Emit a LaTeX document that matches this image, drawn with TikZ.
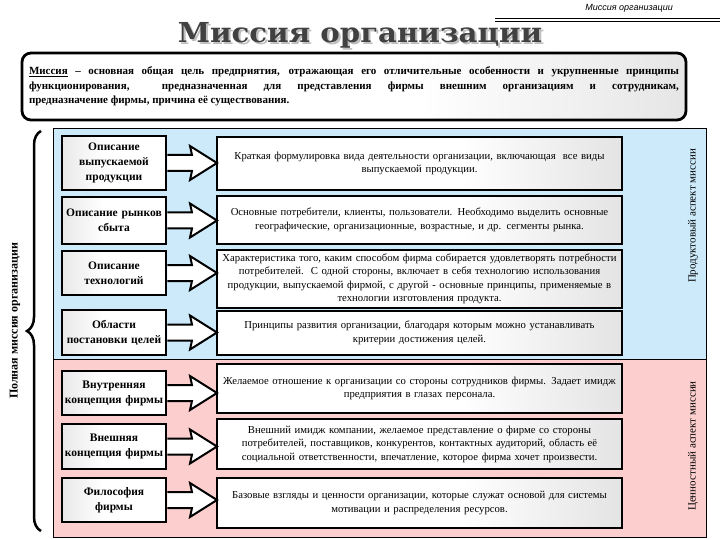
\documentclass[tikz,border=0pt]{standalone}
\usepackage{fontspec}
\setmainfont{Liberation Serif}
\setsansfont{Liberation Sans}
\newfontfamily\titlefont{DejaVu Serif}
\usetikzlibrary{calc,decorations.pathreplacing}
\definecolor{bluepanel}{RGB}{204,234,250}
\definecolor{pinkpanel}{RGB}{252,206,206}
\definecolor{titlegray}{RGB}{65,65,65}
\pgfdeclarehorizontalshading{rshade}{100bp}{color(0bp)=(white); color(55bp)=(white); color(100bp)=(gray!48)}
\pgfdeclarehorizontalshading{lshade}{100bp}{color(0bp)=(gray!40); color(45bp)=(white); color(100bp)=(white)}
\pgfdeclarehorizontalshading{mshade}{100bp}{color(0bp)=(white); color(55bp)=(white); color(100bp)=(gray!45)}
\newcommand\myblockarrow[2]{%
  \draw[barrow] ($(#1.east)+(1.3,-8)$) -- ($(#1.east)+(26,-8)$) -- ($(#1.east)+(24,-17)$)
    -- (#2.west |- #1.east) -- ($(#1.east)+(24,17)$) -- ($(#1.east)+(26,8)$) -- ($(#1.east)+(1.3,8)$);}
\newcommand\mytitlewithshadow[1]{\makebox[0pt][l]{\hspace{2pt}\raisebox{-2pt}{\color{gray!50}#1}}#1}
\begin{document}
\begin{tikzpicture}[x=1pt,y=-1pt,
  panel/.style={draw=black, line width=0.8pt, minimum width=653pt, inner sep=0pt, outer sep=0pt},
  lbox/.style={draw=black, line width=2.5pt, shading=lshade, minimum width=104pt, text width=102pt, align=center, inner sep=0pt, outer sep=0pt, font=\fontsize{11.5}{15}\selectfont\bfseries},
  rbox/.style={draw=black, line width=2.5pt, shading=rshade, minimum width=405pt, text width=403pt, align=center, inner sep=0pt, outer sep=0pt, font=\fontsize{10.7}{13.5}\selectfont},
  barrow/.style={draw=black, line width=2pt, fill=white, line join=miter},
  vlabel/.style={rotate=90, font=\fontsize{11}{12}\selectfont, inner sep=0pt},
  titletext/.style={font=\titlefont\bfseries\fontsize{27.5}{30}\selectfont, inner sep=0pt, anchor=base}
]
\useasboundingbox (0,0) rectangle (720,540);
\fill[white] (0,0) rectangle (720,540);

% header
\node[font=\sffamily\itshape\fontsize{9}{10}\selectfont, anchor=east, inner sep=0pt] (hdr) at (673,8) {Миссия организации};
\draw[line width=0.6pt] (495,18.5) -- (720,18.5);
\draw[line width=1.4pt] (495,21.5) -- (720,21.5);

% title with shadow
\node[titletext, text=titlegray] (title) at (360,43) {\scalebox{1.06}[1]{\mytitlewithshadow{Миссия организации}}};

% mission box
\node[draw=black, line width=2.8pt, rounded corners=9pt, shading=mshade,
      minimum width=664pt, minimum height=67pt, text width=650pt, align=justify, inner sep=0pt,
      font=\fontsize{11}{14.5}\selectfont\bfseries] (mission) at (354,86.5)
 {\underline{Миссия} – основная общая цель предприятия, отражающая его отличительные особенности и укрупненные принципы\linebreak
 функционирования,\ \ предназначенная для представления фирмы внешним организациям и сотрудникам,\linebreak
 предназначение фирмы, причина её существования.};

% panels
\node[panel, fill=bluepanel, minimum height=231pt] (bpanel) at (379.5,243.5) {};
\node[panel, fill=pinkpanel, minimum height=178pt] (ppanel) at (379.5,448) {};

% brace and left label
\draw[decorate, decoration={brace, amplitude=14pt}, line width=2.5pt] (41,531) -- (41,131);
\node[vlabel, font=\fontsize{12}{13}\selectfont\bfseries] (full) at (15,321) {Полная миссия организации};

% right labels
\node[vlabel] (prod) at (693,216) {Продуктовый аспект миссии};
\node[vlabel] (val) at (693,446) {Ценностный аспект миссии};

% left boxes
\node[lbox, minimum height=54pt] (l1) at (114,163) {Описание\\ выпускаемой\\ продукции};
\node[lbox, minimum height=47pt] (l2) at (114,220.5) {Описание рынков\\ сбыта};
\node[lbox, minimum height=44pt] (l3) at (114,273) {Описание\\ технологий};
\node[lbox, minimum height=45pt] (l4) at (114,332.5) {Области\\ постановки целей};
\node[lbox, minimum height=44pt] (l5) at (114,393) {Внутренняя\\ концепция фирмы};
\node[lbox, minimum height=45pt] (l6) at (114,446.5) {Внешняя\\ концепция фирмы};
\node[lbox, minimum height=44pt] (l7) at (114,500) {Философия\\ фирмы};

% right boxes
\node[rbox, minimum height=53pt] (r1) at (419.5,163.5) {Краткая формулировка вида деятельности организации, включающая\ \ все виды\\ выпускаемой продукции.};
\node[rbox, minimum height=48pt] (r2) at (419.5,220) {Основные потребители, клиенты, пользователи. Необходимо выделить основные\\ географические, организационные, возрастные, и др. сегменты рынка.};
\node[rbox, minimum height=58pt] (r3) at (419.5,279) {Характеристика того, каким способом фирма собирается удовлетворять потребности\\ потребителей.\ \ С одной стороны, включает в себя технологию использования\\ продукции, выпускаемой фирмой, с другой - основные принципы, применяемые в\\ технологии изготовления продукта.};
\node[rbox, minimum height=44pt] (r4) at (419.5,333) {Принципы развития организации, благодаря которым можно устанавливать\\ критерии достижения целей.};
\node[rbox, minimum height=49pt] (r5) at (419.5,388.5) {Желаемое отношение к организации со стороны сотрудников фирмы. Задает имидж\\ предприятия в глазах персонала.};
\node[rbox, minimum height=50pt] (r6) at (419.5,444) {Внешний имидж компании, желаемое представление о фирме со стороны\\ потребителей, поставщиков, конкурентов, контактных аудиторий, область её\\ социальной ответственности, впечатление, которое фирма хочет произвести.};
\node[rbox, minimum height=50pt] (r7) at (419.5,503) {Базовые взгляды и ценности организации, которые служат основой для системы\\ мотивации и распределения ресурсов.};

% arrows
\myblockarrow{l1}{r1}
\myblockarrow{l2}{r2}
\myblockarrow{l3}{r3}
\myblockarrow{l4}{r4}
\myblockarrow{l5}{r5}
\myblockarrow{l6}{r6}
\myblockarrow{l7}{r7}
\end{tikzpicture}
\end{document}
